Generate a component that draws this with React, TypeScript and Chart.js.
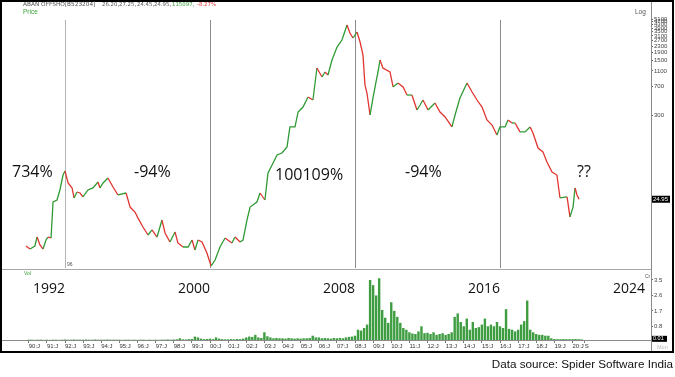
import React, { useEffect, useRef } from "react";
import { Chart, registerables } from "chart.js";
Chart.register(...registerables);

// ---------- DATA ----------
const priceYears = [
  1989.85, 1990.07, 1990.34, 1990.46, 1990.62, 1990.79, 1990.95, 1991.06, 1991.23, 1991.34, 1991.56, 1991.72, 1991.89, 1992.0,
  1992.17, 1992.39, 1992.5, 1992.66, 1992.83, 1992.99, 1993.27, 1993.54, 1993.82, 1993.93, 1994.1, 1994.37, 1994.65, 1994.92,
  1995.37, 1995.59, 1995.86, 1996.03, 1996.3, 1996.58, 1996.8, 1997.08, 1997.35, 1997.52, 1997.79, 1998.07, 1998.23, 1998.51,
  1998.79, 1999.01, 1999.17, 1999.34, 1999.56, 1999.83, 2000.06,
  2000.28, 2000.55, 2000.83, 2001.21, 2001.38, 2001.66, 2001.82, 2002.04, 2002.21, 2002.59, 2002.76, 2003.03, 2003.2, 2003.48,
  2003.7, 2003.97, 2004.25, 2004.41, 2004.69, 2004.86, 2005.13, 2005.41, 2005.68, 2005.9, 2006.18, 2006.34, 2006.51, 2006.73,
  2007.01, 2007.28, 2007.56, 2007.72, 2007.89, 2008.11, 2008.28, 2008.44, 2008.55, 2008.66, 2008.83, 2008.99, 2009.16, 2009.27,
  2009.38, 2009.54, 2009.93, 2010.1, 2010.37, 2010.65, 2010.87, 2011.14, 2011.42, 2011.59, 2011.75, 2012.03, 2012.41, 2012.69,
  2012.97, 2013.35, 2013.52, 2013.79, 2014.18, 2014.46, 2014.73, 2015.01, 2015.28, 2015.56, 2015.83, 2016.0, 2016.28, 2016.44,
  2016.66, 2016.83, 2017.1, 2017.38, 2017.66, 2017.82, 2018.1, 2018.37, 2018.59, 2018.87, 2019.14, 2019.31, 2019.7, 2019.86,
  2020.03, 2020.14, 2020.25, 2020.36,
];
const priceValues = [
  6.28, 5.74, 6.28, 8.18, 6.46, 5.74, 7.49, 8.18, 7.95, 23.0, 24.4, 32.8, 51.0, 57.4,
  40.3, 34.8, 25.9, 30.9, 30.0, 26.7, 32.8, 34.8, 41.5, 34.8, 40.3, 46.7, 35.8, 28.3,
  30.0, 19.8, 17.1, 14.3, 11.0, 8.68, 10.1, 8.18, 13.5, 9.21, 7.06, 9.49, 6.86, 6.09,
  6.09, 7.49, 5.58, 7.49, 7.06, 5.1, 3.48,
  4.15, 6.09, 7.95, 6.86, 8.18, 7.06, 7.49, 13.5, 19.8, 23.0, 30.0, 24.4, 54.1, 72.7,
  92.1, 97.7, 117, 211, 211, 328, 380, 510, 467, 1201, 921, 1068, 977, 1521,
  2233, 2745, 4275, 3376, 2913, 3477, 2588, 1764, 727, 574, 300, 495, 795, 1068,
  1521, 1201, 1068, 686, 772, 686, 541, 541, 348, 403, 467, 348, 427, 328,
  283, 211, 300, 495, 772, 592, 467, 380, 259, 223, 166, 211, 211, 259,
  237, 237, 182, 182, 211, 176, 113, 101, 74.9, 55.8, 51.0, 25.9, 26.7, 14.8,
  19.8, 34.8, 28.3, 24.95,
];

// volume (Cr), one row per year, values for Jan, Mar, May, Jul, Sep, Nov
const volumeYears = [
  1990, 1991, 1992, 1993, 1994, 1995, 1996, 1997, 1998, 1999, 2000, 2001, 2002, 2003, 2004, 2005,
  2006, 2007, 2008, 2009, 2010, 2011, 2012, 2013, 2014, 2015, 2016, 2017, 2018, 2019, 2020,
];
const volumeMonths = [0, 2, 4, 6, 8, 10];
const volumeRows = [
  [0.02, 0.02, 0.01, 0.02, 0.02, 0.01],
  [0.02, 0.01, 0.02, 0.02, 0.01, 0.02],
  [0.03, 0.02, 0.02, 0.03, 0.02, 0.02],
  [0.02, 0.03, 0.02, 0.02, 0.03, 0.02],
  [0.02, 0.02, 0.03, 0.02, 0.02, 0.02],
  [0.02, 0.01, 0.02, 0.02, 0.01, 0.02],
  [0.01, 0.02, 0.02, 0.01, 0.02, 0.01],
  [0.02, 0.01, 0.02, 0.02, 0.03, 0.02],
  [0.03, 0.04, 0.1, 0.04, 0.03, 0.05],
  [0.06, 0.2, 0.15, 0.08, 0.05, 0.06],
  [0.08, 0.05, 0.15, 0.08, 0.05, 0.04],
  [0.04, 0.05, 0.04, 0.06, 0.05, 0.08],
  [0.15, 0.2, 0.18, 0.3, 0.15, 0.12],
  [0.45, 0.22, 0.15, 0.1, 0.12, 0.1],
  [0.1, 0.08, 0.12, 0.1, 0.08, 0.1],
  [0.08, 0.1, 0.1, 0.12, 0.25, 0.15],
  [0.15, 0.1, 0.12, 0.1, 0.08, 0.12],
  [0.1, 0.12, 0.1, 0.15, 0.18, 0.2],
  [0.25, 0.6, 0.55, 0.7, 0.9, 3.5],
  [3.2, 2.6, 3.6, 1.75, 1.3, 1.0],
  [2.2, 1.7, 1.35, 1.0, 0.7, 0.6],
  [0.45, 0.38, 0.35, 0.5, 0.8, 0.4],
  [0.42, 0.35, 0.45, 0.3, 0.35, 0.4],
  [0.3, 0.35, 0.45, 1.35, 1.55, 1.05],
  [0.8, 1.25, 0.6, 1.05, 0.7, 0.75],
  [0.9, 1.25, 0.8, 0.9, 0.8, 1.05],
  [0.8, 0.7, 1.8, 0.65, 0.6, 0.5],
  [0.6, 0.9, 1.1, 2.3, 0.6, 0.45],
  [0.35, 0.3, 0.3, 0.25, 0.25, 0.1],
  [0.06, 0.05, 0.05, 0.06, 0.05, 0.05],
  [0.05, 0.06, 0.05, 0.04],
];

const priceTicks = [300, 700, 1100, 1500, 1900, 2300, 2700, 3100, 3500, 3900, 4300, 4700, 5100];
const volumeTicks = [0.8, 1.7, 2.6, 3.5];
const eraYears = [1992, 2000, 2008, 2016, 2024];
const eraLines = [1992, 2000, 2008, 2016];
const volTickYears = [
  1990, 1991, 1992, 1993, 1994, 1995, 1996, 1997, 1998, 1999, 2000, 2001, 2002, 2003, 2004, 2005,
  2006, 2007, 2008, 2009, 2010, 2011, 2012, 2013, 2014, 2015, 2016, 2017, 2018, 2019, 2020, 2020.67,
];
const volTickLabels = [
  "90:J", "91:J", "92:J", "93:J", "94:J", "95:J", "96:J", "97:J", "98:J", "99:J", "00:J", "01:J", "02:J", "03:J", "04:J", "05:J",
  "06:J", "07:J", "08:J", "09:J", "10:J", "11:J", "12:J", "13:J", "14:J", "15:J", "16:J", "17:J", "18:J", "19:J", "20:J", "S",
];
const lastPrice = 24.95;
const lastVolume = 0.01;

const annotations = [
  { text: "734%", x: 12, y: 177 },
  { text: "-94%", x: 134, y: 177 },
  { text: "100109%", x: 275, y: 180 },
  { text: "-94%", x: 405, y: 177 },
  { text: "??", x: 577, y: 177 },
];

// ---------- STYLE ----------
const GREEN = "#2f9a34";
const RED = "#e0352f";
const VOL_GREEN = "#3e9d41";
const X_MIN = 1988.524;
const X_MAX = 2024.331;
const SMALL = "'Liberation Sans', Arial, sans-serif";
const HEAD = "'DejaVu Sans', Verdana, sans-serif";

const priceOverlay = {
  id: "priceOverlay",
  beforeDatasetsDraw(chart: any) {
    const { ctx, chartArea, scales } = chart;
    eraLines.forEach((yr, i) => {
      const x = Math.round(scales.x.getPixelForValue(yr)) + 0.5;
      ctx.save();
      ctx.strokeStyle = i === 0 ? "#b4b4b4" : "#8c8c8c";
      ctx.lineWidth = 1;
      ctx.beginPath();
      ctx.moveTo(x, 20);
      ctx.lineTo(x, chartArea.bottom);
      ctx.stroke();
      ctx.restore();
    });
  },
  afterDraw(chart: any) {
    const { ctx, chartArea, scales } = chart;
    ctx.save();
    ctx.fillStyle = "#111";
    ctx.font = "16px 'Open Sans'";
    ctx.textBaseline = "alphabetic";
    ctx.textAlign = "left";
    annotations.forEach((a) => ctx.fillText(a.text, a.x, a.y));
    const yy = scales.y.getPixelForValue(lastPrice);
    ctx.fillStyle = "#000";
    ctx.fillRect(chartArea.right + 1, yy - 3.5, 18, 7);
    ctx.fillStyle = "#fff";
    ctx.font = "6px " + SMALL;
    ctx.textBaseline = "middle";
    ctx.fillText(String(lastPrice), chartArea.right + 2, yy);
    ctx.fillStyle = "#555";
    ctx.font = "5px " + SMALL;
    ctx.fillText("96", scales.x.getPixelForValue(1992) + 2, chartArea.bottom - 3);
    ctx.restore();
  },
};

const volOverlay = {
  id: "volOverlay",
  afterDraw(chart: any) {
    const { ctx, chartArea, scales } = chart;
    const yy = scales.y.getPixelForValue(lastVolume) - 1;
    ctx.save();
    ctx.fillStyle = "#000";
    ctx.fillRect(chartArea.right + 1, yy - 3, 15, 6);
    ctx.fillStyle = "#fff";
    ctx.font = "5.5px " + SMALL;
    ctx.textBaseline = "middle";
    ctx.fillText("0.01", chartArea.right + 2, yy);
    ctx.restore();
  },
};

export default function App() {
  const priceRef = useRef<HTMLCanvasElement>(null);
  const volRef = useRef<HTMLCanvasElement>(null);

  useEffect(() => {
    const pricePoints = priceYears.map((x, i) => ({ x, y: priceValues[i] }));
    const volPoints: { x: number; y: number }[] = [];
    volumeRows.forEach((row, r) =>
      row.forEach((v, k) => volPoints.push({ x: volumeYears[r] + volumeMonths[k] / 12, y: v }))
    );

    const p = new Chart(priceRef.current as HTMLCanvasElement, {
      type: "line",
      data: {
        datasets: [
          {
            data: pricePoints,
            borderColor: GREEN,
            borderWidth: 1.3,
            pointRadius: 0,
            tension: 0,
            segment: {
              borderColor: (c: any) => (c.p1.parsed.y >= c.p0.parsed.y ? GREEN : RED),
            },
          },
        ],
      },
      options: {
        animation: false,
        responsive: false,
        maintainAspectRatio: false,
        layout: { padding: { left: 2, right: 0, top: 14, bottom: 0 } },
        plugins: { legend: { display: false }, tooltip: { enabled: false } },
        scales: {
          x: {
            type: "linear",
            min: X_MIN,
            max: X_MAX,
            bounds: "data",
            afterBuildTicks: (s: any) => {
              s.ticks = eraYears.map((v) => ({ value: v }));
            },
            afterFit: (s: any) => {
              s.height = 32;
            },
            grid: { display: false },
            border: { display: false },
            ticks: {
              autoSkip: false,
              align: "end",
              padding: 5,
              maxRotation: 0,
              color: "#111",
              font: { family: "'Open Sans'", size: 14 },
              callback: (v: any) => String(v),
            },
          },
          y: {
            type: "logarithmic",
            position: "right",
            min: 3.278,
            max: 5916,
            bounds: "data",
            afterBuildTicks: (s: any) => {
              s.ticks = priceTicks.map((v) => ({ value: v }));
            },
            afterFit: (s: any) => {
              s.width = 24;
            },
            grid: { drawOnChartArea: false, drawTicks: true, tickLength: 2, color: "#666" },
            border: { display: false },
            ticks: {
              autoSkip: false,
              padding: 1,
              color: "#444",
              font: { family: SMALL, size: 6 },
              callback: (v: any) => String(v),
            },
          },
        },
      } as any,
      plugins: [priceOverlay],
    });

    const v = new Chart(volRef.current as HTMLCanvasElement, {
      type: "bar",
      data: {
        datasets: [
          {
            data: volPoints,
            backgroundColor: VOL_GREEN,
            borderWidth: 0,
            barPercentage: 0.8,
            categoryPercentage: 1,
          },
        ],
      },
      options: {
        animation: false,
        responsive: false,
        maintainAspectRatio: false,
        layout: { padding: { left: 2, right: 0, top: 6, bottom: 0 } },
        plugins: { legend: { display: false }, tooltip: { enabled: false } },
        scales: {
          x: {
            type: "linear",
            min: X_MIN,
            max: X_MAX,
            offset: false,
            bounds: "data",
            afterBuildTicks: (s: any) => {
              s.ticks = volTickYears.map((v) => ({ value: v }));
            },
            afterFit: (s: any) => {
              s.height = 12;
            },
            grid: { drawOnChartArea: false, offset: false, tickLength: 3, color: "#777" },
            border: { display: true, color: "#8a8a8a" },
            ticks: {
              autoSkip: false,
              align: "start",
              padding: 0,
              maxRotation: 0,
              color: "#333",
              font: { family: SMALL, size: 6 },
              callback: (_v: any, i: number) => volTickLabels[i],
            },
          },
          y: {
            position: "right",
            min: 0,
            max: 3.733,
            afterBuildTicks: (s: any) => {
              s.ticks = volumeTicks.map((v) => ({ value: v }));
            },
            afterFit: (s: any) => {
              s.width = 24;
            },
            grid: { drawOnChartArea: false, tickLength: 2, color: "#666" },
            border: { display: false },
            ticks: {
              autoSkip: false,
              padding: 1,
              color: "#444",
              font: { family: SMALL, size: 6 },
              callback: (v: any) => Number(v).toFixed(1),
            },
          },
        },
      } as any,
      plugins: [volOverlay],
    });

    return () => {
      p.destroy();
      v.destroy();
    };
  }, []);

  const t = (l: number, tp: number, size: number, color: string, text: string, family: string = SMALL) => (
    <div
      style={{
        position: "absolute",
        left: l,
        top: tp,
        fontSize: size,
        lineHeight: 1,
        color,
        fontFamily: family,
        whiteSpace: "nowrap",
      }}
    >
      {text}
    </div>
  );

  return (
    <div style={{ position: "absolute", left: 0, top: 0, width: 675, height: 377, background: "#fff", overflow: "hidden" }}>
      <canvas ref={priceRef} width={675} height={300} style={{ position: "absolute", left: 0, top: 0, width: 675, height: 300 }} />
      <canvas ref={volRef} width={675} height={82} style={{ position: "absolute", left: 0, top: 270, width: 675, height: 82 }} />
      <div style={{ position: "absolute", left: 0, top: 269, width: 651, height: 1, background: "#a8a8a8" }} />
      <div style={{ position: "absolute", left: 651, top: 0, width: 1, height: 352, background: "#8a8a8a" }} />
      <div
        style={{
          position: "absolute",
          left: 0,
          top: 0,
          width: 674,
          height: 353,
          border: "2px solid #000",
          boxSizing: "border-box",
        }}
      />
      {t(23, 1.6, 5.8, "#555", "ABAN OFFSHO[B523204]", HEAD)}
      {t(102, 1.8, 5.4, "#555", "26.20,", HEAD)}
      {t(119, 1.8, 5.4, "#555", "27.25,", HEAD)}
      {t(137, 1.8, 5.4, "#555", "24.45,", HEAD)}
      {t(154, 1.8, 5.4, "#555", "24.95,", HEAD)}
      {t(172, 1.8, 5.4, "#3aa03a", "115097,", HEAD)}
      {t(197, 1.8, 5.4, "#e03a3a", "-8.27%", HEAD)}
      {t(23, 9, 6.5, "#3aa03a", "Price")}
      {t(635, 9, 6.5, "#555", "Log")}
      {t(24, 270.5, 5, "#3aa03a", "Vol")}
      {t(645, 274, 5, "#555", "Cr")}
      {t(657, 345, 5.5, "#bbb", "Mon")}
      <div
        style={{
          position: "absolute",
          left: 380,
          top: 358,
          width: 293,
          textAlign: "right",
          fontSize: 11.7,
          lineHeight: "12px",
          color: "#111",
          fontFamily: SMALL,
          whiteSpace: "nowrap",
        }}
      >
        Data source: Spider Software India
      </div>
    </div>
  );
}
